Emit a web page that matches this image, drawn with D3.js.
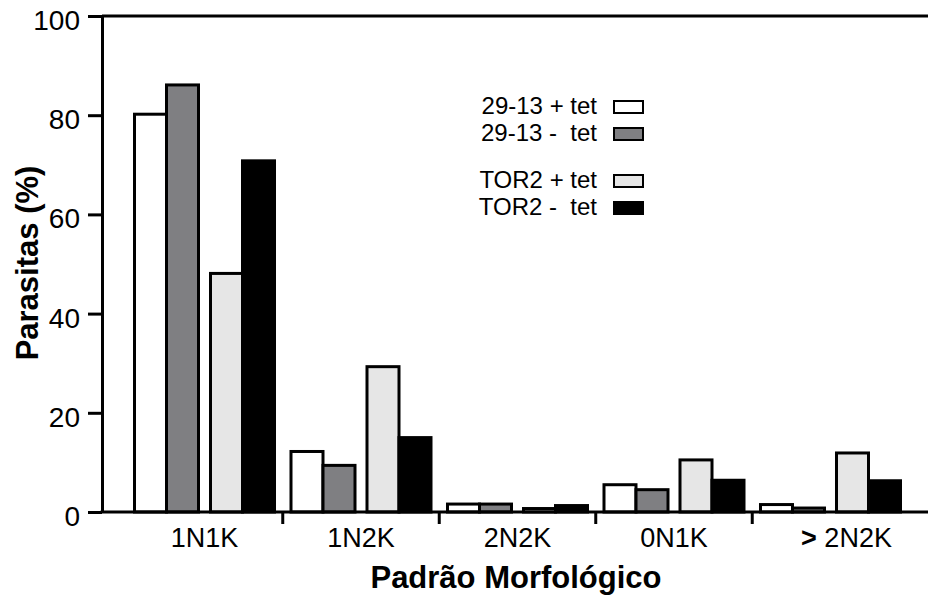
<!DOCTYPE html>
<html>
<head>
<meta charset="utf-8">
<script src="https://cdn.jsdelivr.net/npm/d3@7"></script>
<style>
  body { margin: 0; background: #fff; }
  svg text { font-family: "Liberation Sans", Arial, sans-serif; fill: #000; }
</style>
</head>
<body>
<div id="chart"></div>
<script>
// categories and series
var categories = ["1N1K", "1N2K", "2N2K", "0N1K", "> 2N2K"];
var seriesNames = ["29-13 + tet", "29-13 -  tet", "TOR2 + tet", "TOR2 -  tet"];
var seriesColors = ["#ffffff", "#7f7f82", "#e6e6e6", "#000000"];

// values (%) per series, in category order
var v2913Plus  = [80.2, 12.2, 1.6, 5.5, 1.5];
var v2913Minus = [86.1, 9.4, 1.6, 4.5, 0.8];
var vTor2Plus  = [48.1, 29.3, 0.7, 10.5, 11.9];
var vTor2Minus = [70.8, 15.0, 1.3, 6.4, 6.3];
var yTicks = [0, 20, 40, 60, 80, 100];

var seriesValues = [v2913Plus, v2913Minus, vTor2Plus, vTor2Minus];

var width = 928, height = 596;
var svg = d3.select("#chart").append("svg")
  .attr("width", width).attr("height", height);

var axisX = 102;
var y = d3.scaleLinear().domain([0, 100]).range([512, 16]);

// groups: 5 categories, each holds two pairs of bars
var x = d3.scaleBand().domain(categories).range([134.5, 900.5]).paddingInner(0.1054);
var pair = d3.scaleBand().domain([0, 1]).range([0, x.bandwidth()]).paddingInner(12 / 76);
var bar = d3.scaleBand().domain([0, 1]).range([0, pair.bandwidth()]);

var rows = [];
categories.forEach(function(c, ci){
  seriesValues.forEach(function(vals, si){
    rows.push({cat: c, s: si, v: vals[ci]});
  });
});

// bars
svg.append("g").selectAll("rect")
  .data(rows)
  .enter().append("rect")
  .attr("x", function(d){ return x(d.cat) + pair(Math.floor(d.s / 2)) + bar(d.s % 2); })
  .attr("y", function(d){ return y(d.v); })
  .attr("width", bar.bandwidth())
  .attr("height", function(d){ return y(0) - y(d.v); })
  .attr("fill", function(d){ return seriesColors[d.s]; })
  .attr("stroke", "#000")
  .attr("stroke-width", 3);

// y axis
var yAxis = svg.append("g")
  .attr("transform", "translate(" + axisX + ",0)")
  .call(d3.axisLeft(y).tickValues(yTicks).tickSize(14).tickSizeOuter(0).tickPadding(8));
yAxis.select(".domain").attr("stroke-width", 3);
yAxis.selectAll(".tick line").attr("stroke-width", 3);
yAxis.selectAll(".tick text")
  .attr("dy", "0.48em")
  .style("font-size", "28px")
  .style("font-family", "'Liberation Sans', Arial, sans-serif");

// top frame line at 100
svg.append("line")
  .attr("x1", axisX).attr("x2", width)
  .attr("y1", y(100)).attr("y2", y(100))
  .attr("stroke", "#000").attr("stroke-width", 3);

// x axis line
svg.append("line")
  .attr("x1", axisX - 1.5).attr("x2", width)
  .attr("y1", y(0)).attr("y2", y(0))
  .attr("stroke", "#000").attr("stroke-width", 3);

// boundary ticks between groups
var gapHalf = x.step() * x.paddingInner() / 2;
svg.append("g").selectAll("line")
  .data(categories.slice(1))
  .enter().append("line")
  .attr("x1", function(c){ return x(c) - gapHalf; })
  .attr("x2", function(c){ return x(c) - gapHalf; })
  .attr("y1", y(0)).attr("y2", y(0) + 12)
  .attr("stroke", "#000").attr("stroke-width", 3);

// category labels (the ">" sign is bold in the original)
var catText = svg.append("g").selectAll("text")
  .data(categories)
  .enter().append("text")
  .attr("x", function(c, i){ return x(c) + x.bandwidth() / 2 + (i === 4 ? 16 : 0); })
  .attr("y", 547)
  .attr("text-anchor", "middle")
  .style("font-size", "27px")
  .style("white-space", "pre");
catText.each(function(c){
  var t = d3.select(this);
  if (c.charAt(0) === ">") {
    t.append("tspan").style("font-weight", "bold").text(">");
    t.append("tspan").text(c.slice(1));
  } else {
    t.text(c);
  }
});

// axis titles
svg.append("text")
  .attr("x", 516).attr("y", 588)
  .attr("text-anchor", "middle")
  .style("font-size", "31px").style("font-weight", "bold")
  .text("Padrão Morfológico");

svg.append("text")
  .attr("transform", "translate(38,263) rotate(-90)")
  .attr("text-anchor", "middle")
  .style("font-size", "31px").style("font-weight", "bold")
  .text("Parasitas (%)");

// legend
var legendY = function(i){ return 114 + i * 27 + (i >= 2 ? 20 : 0); };
var legend = svg.append("g").selectAll("g")
  .data(seriesNames)
  .enter().append("g")
  .attr("transform", function(d, i){ return "translate(0," + legendY(i) + ")"; });

legend.append("text")
  .attr("x", 597).attr("y", 0)
  .attr("text-anchor", "end")
  .style("font-size", "24px")
  .style("white-space", "pre")
  .text(function(d){ return d; });

legend.append("rect")
  .attr("x", 614).attr("y", -13)
  .attr("width", 29).attr("height", 12)
  .attr("fill", function(d, i){ return seriesColors[i]; })
  .attr("stroke", "#000").attr("stroke-width", 2);
</script>
</body>
</html>
